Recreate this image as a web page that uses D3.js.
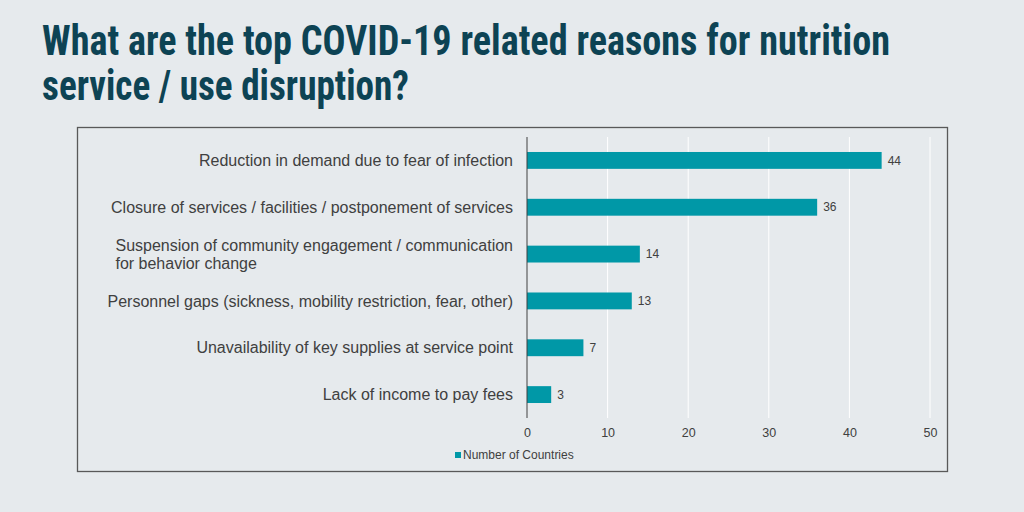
<!DOCTYPE html>
<meta charset="utf-8">
<html>
<script src="https://d3js.org/d3.v7.min.js"></script>
<style>
  body { margin: 0; background: #e6eaed; }
  svg { display: block; }
</style>
<body>
<div id="my_dataviz"></div>
<script>
  // data
  const titleLines = ["What are the top COVID-19 related reasons for nutrition", "service / use disruption?"];
  const categories = [
    ["Reduction in demand due to fear of infection"],
    ["Closure of services / facilities / postponement of services"],
    ["Suspension of community engagement / communication", "for behavior change"],
    ["Personnel gaps (sickness, mobility restriction, fear, other)"],
    ["Unavailability of key supplies at service point"],
    ["Lack of income to pay fees"]
  ];
  const values = [44, 36, 14, 13, 7, 3];
  const xTicks = [0, 10, 20, 30, 40, 50];
  const seriesName = "Number of Countries";

  const W = 1024, H = 512;
  const teal = "#0098a7", textCol = "#404040";

  const svg = d3.select("#my_dataviz")
    .append("svg")
      .attr("width", W)
      .attr("height", H);

  svg.append("rect").attr("width", W).attr("height", H).attr("fill", "#e6eaed");

  // title
  const titleFont = "'Liberation Sans Narrow', 'Roboto Condensed', Roboto, sans-serif";
  const titleWidths = [848, 367];
  titleLines.forEach((t, i) => {
    svg.append("text")
      .attr("x", 42)
      .attr("y", 55 + i * 45)
      .attr("font-family", titleFont)
      .attr("font-weight", "bold")
      .attr("font-size", 42)
      .attr("fill", "#0d4354")
      .attr("textLength", titleWidths[i])
      .attr("lengthAdjust", "spacingAndGlyphs")
      .text(t);
  });

  // chart frame
  svg.append("rect")
    .attr("x", 77.5).attr("y", 127.5)
    .attr("width", 870).attr("height", 344)
    .attr("fill", "none")
    .attr("stroke", "#595959")
    .attr("stroke-width", 1.3);

  const margin = {left: 527, top: 137, right: 94, bottom: 94};
  const width = W - margin.left - margin.right;  // ~403
  const height = H - margin.top - margin.bottom; // ~281

  const g = svg.append("g").attr("transform", `translate(${margin.left},${margin.top})`);

  const x = d3.scaleLinear().domain([0, 50]).range([0, width]);
  const y = d3.scaleBand()
    .domain(d3.range(categories.length))
    .range([0, height])
    .paddingInner(0.64)
    .paddingOuter(0.32);

  const labelFont = "'Liberation Sans', Arial, Helvetica, sans-serif";

  // gridlines
  g.append("g")
    .selectAll("line")
    .data(xTicks.slice(1))
    .join("line")
      .attr("x1", d => x(d)).attr("x2", d => x(d))
      .attr("y1", 0).attr("y2", height)
      .attr("stroke", "#ffffff")
      .attr("stroke-width", 1);

  // x axis (labels only)
  const xAxis = g.append("g")
    .attr("transform", `translate(0,${height})`)
    .call(d3.axisBottom(x).tickValues(xTicks).tickSize(0).tickPadding(10));
  xAxis.select(".domain").remove();
  xAxis.selectAll("text")
    .attr("font-family", labelFont)
    .attr("font-size", 12.5)
    .attr("fill", textCol);

  // bars
  g.selectAll("rect.bar")
    .data(values)
    .join("rect")
      .attr("class", "bar")
      .attr("x", x(0))
      .attr("y", (d, i) => y(i))
      .attr("width", d => x(d) - x(0))
      .attr("height", y.bandwidth())
      .attr("fill", teal);

  // value labels
  g.selectAll("text.val")
    .data(values)
    .join("text")
      .attr("class", "val")
      .attr("x", d => x(d) + 6)
      .attr("y", (d, i) => y(i) + y.bandwidth() / 2)
      .attr("dy", "0.35em")
      .attr("font-family", labelFont)
      .attr("font-size", 12)
      .attr("fill", textCol)
      .text(d => d);

  // y axis line
  g.append("line")
    .attr("x1", 0).attr("x2", 0)
    .attr("y1", 0).attr("y2", height)
    .attr("stroke", "#404040")
    .attr("stroke-width", 1);

  // category labels: right aligned block, lines left aligned inside
  categories.forEach((lines, i) => {
    const cy = y(i) + y.bandwidth() / 2;
    const t = g.append("text")
      .attr("font-family", labelFont)
      .attr("font-size", 16)
      .attr("fill", textCol);
    const lh = 18;
    lines.forEach((l, j) => {
      t.append("tspan")
        .attr("x", -14)
        .attr("y", cy + (j - (lines.length - 1) / 2) * lh)
        .attr("dy", "0.35em")
        .text(l);
    });
    if (lines.length === 1) {
      t.attr("text-anchor", "end");
    } else {
      const w = t.node().getBBox().width;
      t.selectAll("tspan").attr("x", -14 - w);
    }
  });

  // legend
  const leg = svg.append("g").attr("transform", "translate(455,455)");
  leg.append("rect")
    .attr("x", 0).attr("y", -3)
    .attr("width", 6).attr("height", 6)
    .attr("fill", teal);
  leg.append("text")
    .attr("x", 8)
    .attr("dy", "0.35em")
    .attr("font-family", labelFont)
    .attr("font-size", 12)
    .attr("fill", textCol)
    .text(seriesName);
</script>
</body>
</html>
